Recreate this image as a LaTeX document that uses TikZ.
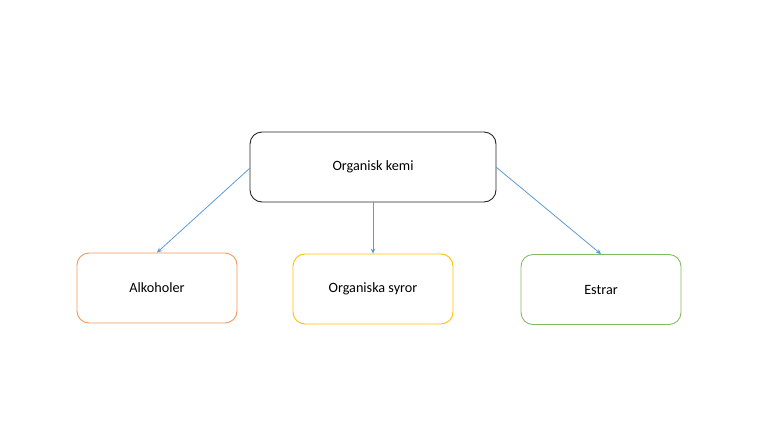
\documentclass[tikz,border=0pt]{standalone}
\usepackage{fontspec}
\setmainfont{Carlito}
\usetikzlibrary{arrows.meta}
\definecolor{arrowblue}{HTML}{5B9BD5}
\definecolor{boxorange}{HTML}{ED7D31}
\definecolor{boxyellow}{HTML}{FFC000}
\definecolor{boxgreen}{HTML}{70AD47}
\tikzset{
  box/.style={draw, rounded corners=12pt, line width=0.9pt, minimum width=160pt, minimum height=70pt, align=center, font=\fontsize{14.2}{16}\selectfont, inner sep=0pt},
  link/.style={draw=arrowblue, line width=0.8pt, -{Stealth[length=5pt,width=4.5pt]}}
}
\begin{document}
\begin{tikzpicture}[x=1pt,y=-1pt]
\useasboundingbox (0,0) rectangle (768,431);
\node[box, draw=black!85, minimum width=246pt] (top) at (373,167) {Organisk kemi};
\node[box, draw=boxorange!80] (alk) at (157,288) {Alkoholer};
\node[box, draw=boxyellow] (syr) at (373,289) {Organiska syror};
\node[box, draw=boxgreen!85] (est) at (601,289.5) {Estrar};
\coordinate (tl) at (250,168);
\coordinate (tr) at (496,167);
\draw[link] (tl) -- (alk.north);
\draw[link] (top.south) -- (syr.north);
\draw[link] (tr) -- (est.north);
\end{tikzpicture}
\end{document}
